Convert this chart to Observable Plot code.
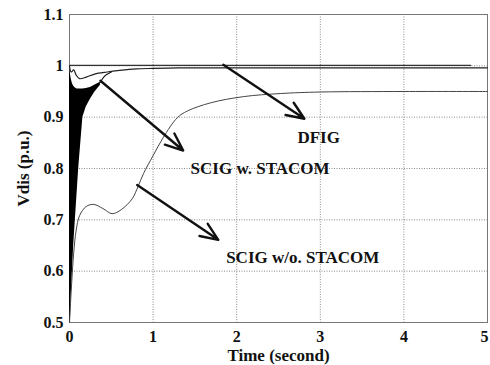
<!DOCTYPE html>
<html>
<head>
<meta charset="utf-8">
<script src="https://cdn.jsdelivr.net/npm/d3@7"></script>
<script src="https://cdn.jsdelivr.net/npm/@observablehq/plot@0.6"></script>
<style>
  html, body { margin: 0; padding: 0; background: #fff; }
  #chart { width: 490px; height: 365px; }
  #chart svg text { font-family: 'Liberation Serif', 'Times New Roman', serif; font-weight: bold; }
</style>
</head>
<body>
<div id="chart"></div>
<script>
// ---- data ----
const xTicks = [0, 1, 2, 3, 4];
const xTickLast = [5];
const yTicks = [0.5, 0.6, 0.7, 0.8, 0.9, 1.0, 1.1];

// DFIG (stays at ~1.0)
const dfigT = [0, 0.5, 1, 1.5, 2, 2.5, 3, 3.5, 4, 4.5, 4.8];
const dfigV = [1.001, 1.001, 1.001, 1.001, 1.001, 1.001, 1.001, 1.001, 1.001, 1.001, 1.001];

// SCIG w. STACOM : smooth upper trace
const stacomT = [0, 0.02, 0.05, 0.08, 0.12, 0.2, 0.3, 0.45, 0.6, 0.8, 1.0, 1.3, 1.6, 2, 3, 4, 5];
const stacomV = [1.0, 0.988, 0.992, 0.982, 0.975, 0.978, 0.984, 0.988, 0.991, 0.994, 0.995, 0.996, 0.996, 0.996, 0.996, 0.996, 0.996];

// SCIG w. STACOM : fast oscillation band (envelopes)
const bandT     = [0, 0.005, 0.01, 0.02, 0.035, 0.05, 0.07, 0.09, 0.11, 0.14, 0.16, 0.2, 0.25, 0.3, 0.37];
const bandLower = [0.5, 0.5, 0.5, 0.55, 0.6, 0.65, 0.7, 0.75, 0.8, 0.86, 0.9, 0.92, 0.935, 0.948, 0.962];
const bandUpper = [1.0, 0.99, 0.985, 0.975, 0.965, 0.96, 0.957, 0.955, 0.955, 0.955, 0.955, 0.956, 0.958, 0.962, 0.968];
const joinT = [0.37, 0.42, 0.5];
const joinV = [0.968, 0.98, 0.988];

// SCIG w/o. STACOM
const woT = [0, 0.02, 0.05, 0.08, 0.12, 0.2, 0.29, 0.4, 0.51, 0.62, 0.75, 0.82, 0.885, 1.0, 1.12, 1.29, 1.41, 1.69, 2.08, 2.52, 3, 4, 5];
const woV = [0.5, 0.56, 0.635, 0.68, 0.708, 0.726, 0.73, 0.722, 0.712, 0.72, 0.741, 0.765, 0.79, 0.825, 0.86, 0.899, 0.912, 0.928, 0.94, 0.946, 0.949, 0.95, 0.95];

// annotations
const labelText = ["DFIG", "SCIG w. STACOM", "SCIG w/o. STACOM"];
const labelX = [2.98, 2.28, 2.79];
const labelY = [0.86, 0.80, 0.626];
const arrowX1 = [1.84, 0.37, 0.81];
const arrowY1 = [1.002, 0.971, 0.768];
const arrowX2 = [2.81, 1.36, 1.78];
const arrowY2 = [0.897, 0.835, 0.661];

// ---- build tables ----
const zip = (t, v) => t.map((x, i) => ({t: x, v: v[i]}));
const band = bandT.map((t, i) => ({t, lo: bandLower[i], hi: bandUpper[i]}));
const labels = labelText.map((s, i) => ({s, x: labelX[i], y: labelY[i]}));
const arrows = arrowX1.map((x1, i) => ({x1, y1: arrowY1[i], x2: arrowX2[i], y2: arrowY2[i]}));

const FONT = "'Liberation Serif', 'Times New Roman', serif";
const txt = {fontFamily: FONT, fontWeight: "bold", fontSize: 17, fill: "#111"};
const tickTxt = {fontFamily: FONT, fontWeight: "bold", fontSize: 16, fill: "#111"};

const chart = Plot.plot({
  width: 490,
  height: 365,
  marginLeft: 69,
  marginRight: 3,
  marginTop: 14,
  marginBottom: 43,
  style: {fontFamily: FONT, fontWeight: "bold", fontSize: "17px", color: "#111", background: "#fff"},
  x: {domain: [0, 5]},
  y: {domain: [0.5, 1.1]},
  marks: [
    Plot.gridX(xTicks.concat(xTickLast), {stroke: "#8a8a8a", strokeOpacity: 1, strokeDasharray: "1,1.5"}),
    Plot.gridY(yTicks, {stroke: "#8a8a8a", strokeOpacity: 1, strokeDasharray: "1,1.5"}),
    Plot.frame({stroke: "#777", strokeWidth: 1}),
    Plot.axisX({ticks: xTicks, tickSize: 0, tickPadding: 8, tickFormat: d3.format("d"), label: null, ...tickTxt}),
    Plot.axisX({ticks: xTickLast, tickSize: 0, tickPadding: 8, tickFormat: d3.format("d"), label: null, dx: -3, ...tickTxt}),
    Plot.axisX({ticks: [], tickSize: 0, label: "Time (second)", labelAnchor: "center", labelArrow: "none", labelOffset: 38, ...txt}),
    Plot.axisY({ticks: yTicks, tickSize: 0, tickPadding: 6, tickFormat: d => d3.format("~g")(d), label: null, ...tickTxt}),
    Plot.axisY({ticks: [], tickSize: 0, label: "Vdis (p.u.)", labelAnchor: "center", labelArrow: "none", labelOffset: 53, ...txt}),
    Plot.areaY(band, {x: "t", y1: "lo", y2: "hi", fill: "#000"}),
    Plot.line(zip(joinT, joinV), {x: "t", y: "v", stroke: "#111", strokeWidth: 1.2, curve: "catmull-rom"}),
    Plot.line(zip(stacomT, stacomV), {x: "t", y: "v", stroke: "#222", strokeWidth: 1.2, curve: "catmull-rom"}),
    Plot.line(zip(dfigT, dfigV), {x: "t", y: "v", stroke: "#333", strokeWidth: 1.3}),
    Plot.line(zip(woT, woV), {x: "t", y: "v", stroke: "#444", strokeWidth: 1, curve: "catmull-rom"}),
    Plot.arrow(arrows, {x1: "x1", y1: "y1", x2: "x2", y2: "y2", stroke: "#111", strokeWidth: 2.4, headLength: 12, headAngle: 45}),
    Plot.text(labels, {x: "x", y: "y", text: "s", ...txt})
  ]
});
document.getElementById("chart").appendChild(chart);
</script>
</body>
</html>
